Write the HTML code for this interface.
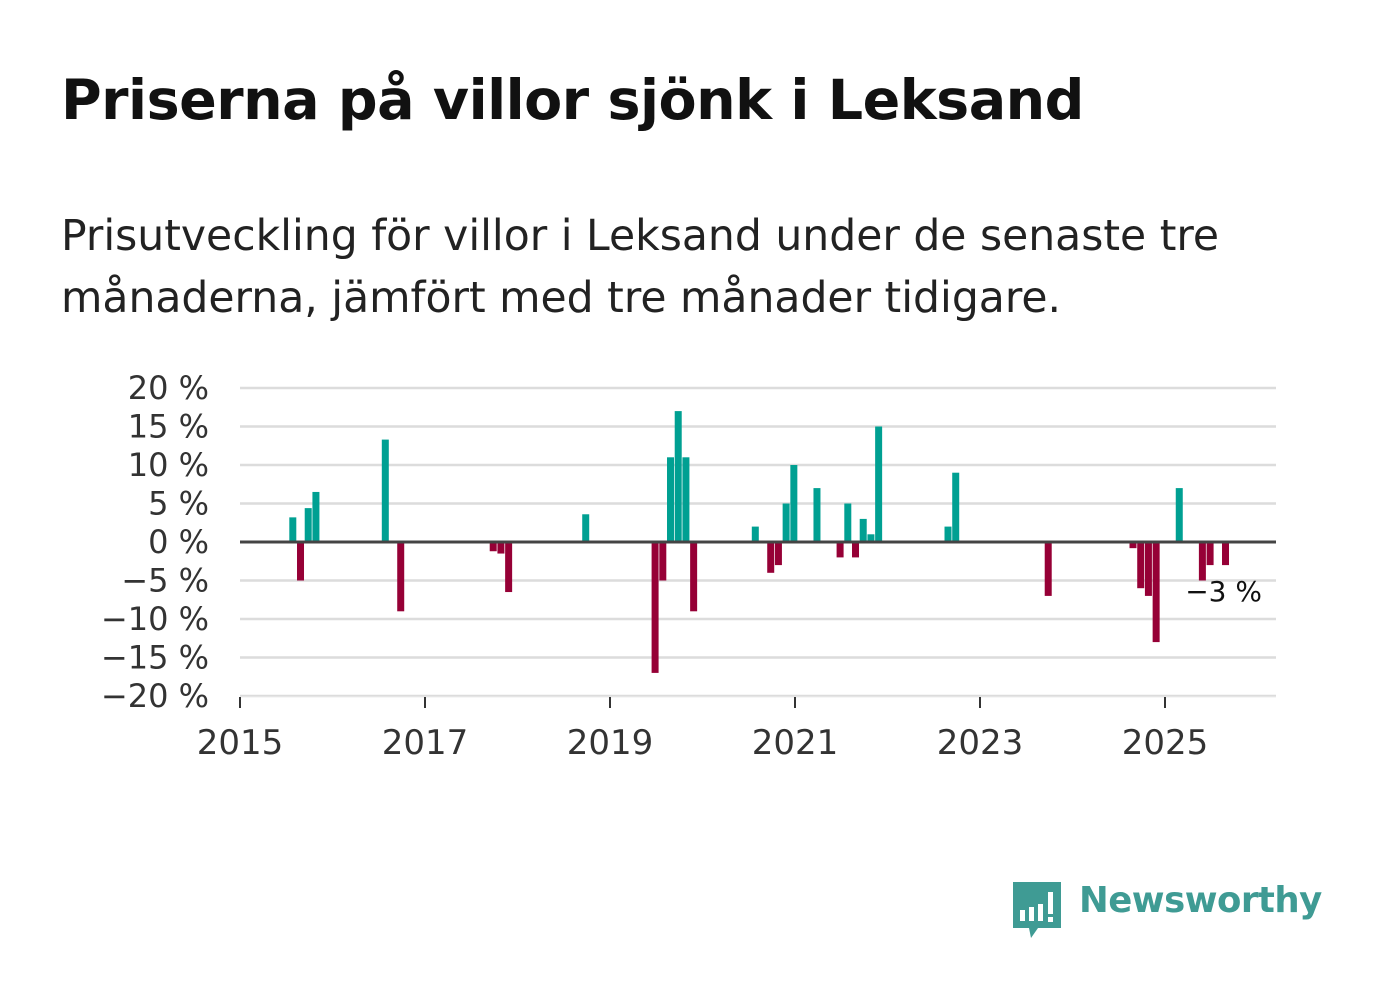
<!DOCTYPE html>
<html><head><meta charset="utf-8">
<style>
body{margin:0;background:#fff;font-family:"DejaVu Sans","Liberation Sans",sans-serif;}
#wrap{position:relative;width:1382px;height:999px;overflow:hidden}
h1{position:absolute;left:61px;top:68px;margin:0;font-size:55.5px;font-weight:bold;color:#111;letter-spacing:-0.5px;font-family:"DejaVu Sans","Liberation Sans",sans-serif}
p{position:absolute;left:61px;top:206px;margin:0;font-size:42.5px;line-height:62px;color:#222;width:1300px}
</style></head><body>
<div id="wrap">
<h1>Priserna på villor sjönk i Leksand</h1>
<p>Prisutveckling för villor i Leksand under de senaste tre<br>månaderna, jämfört med tre månader tidigare.</p>
<svg id="chart" width="1382" height="999" style="position:absolute;left:0;top:0"></svg>
<svg style="position:absolute;left:1011px;top:880px" width="52" height="60">
<path d="M2 2h48v46H27l-7 10-2-10H2z" fill="#3f9b94"/>
<rect x="9" y="30" width="5" height="11" fill="#fff"/><rect x="18" y="27" width="5" height="14" fill="#fff"/><rect x="27" y="24" width="5" height="17" fill="#fff"/><rect x="37" y="12" width="5" height="22" fill="#fff"/><rect x="37" y="37" width="5" height="5" fill="#fff"/>
</svg>
<div style="position:absolute;left:1079px;top:880px;font-size:35.5px;font-weight:bold;color:#3f9b94;font-family:'DejaVu Sans','Liberation Sans',sans-serif;letter-spacing:-0.5px">Newsworthy</div>
</div>
<script>
const monthIndex=[6,7,8,9,18,20,32,33,34,44,53,54,55,56,57,58,66,68,69,70,71,74,77,78,79,80,81,82,91,92,104,115,116,117,118,121,124,125,127];
const values=[3.2,-5,4.4,6.5,13.3,-9,-1.2,-1.5,-6.5,3.6,-17,-5,11,17,11,-9,2,-4,-3,5,10,7,-2,5,-2,3,1,15,2,9,-7,-0.8,-6,-7,-13,7,-5,-3,-3];
const yTicks=[20,15,10,5,0,-5,-10,-15,-20];
const xTickYears=[2015,2017,2019,2021,2023,2025];
const lastLabel="−3 %";
const svg=document.getElementById('chart');const NS='http://www.w3.org/2000/svg';
const x0=240,x1=1276,y0=542,pxPer=7.7,monthPx=92.5/12;
const xm=i=>x0+(i+0.85)*monthPx;
const xy=yr=>x0+(yr-2015)*92.5;
const yv=v=>y0-v*pxPer;
function add(tag,a){const e=document.createElementNS(NS,tag);for(const k in a)e.setAttribute(k,a[k]);svg.appendChild(e);return e;}
yTicks.forEach(t=>{
 if(t!==0){const l=add('line',{x1:x0,x2:x1,y1:yv(t),y2:yv(t),stroke:'#dcdcdc','stroke-width':2.5});
 
 }
 const tx=add('text',{x:209,y:yv(t)+11,'text-anchor':'end','font-size':32,fill:'#333'});
 tx.textContent=(t<0?'−'+(-t):t)+' %';
 
 
});
const ax=add('line',{x1:x0,x2:x1,y1:yv(-20)+1,y2:yv(-20)+1,stroke:'#eee','stroke-width':1});


xTickYears.forEach(yr=>{
 const l=add('line',{x1:xy(yr),x2:xy(yr),y1:697,y2:708,stroke:'#333','stroke-width':2});
 
 
 const t=add('text',{x:xy(yr),y:754,'text-anchor':'middle','font-size':34,fill:'#333'});
 t.textContent=yr;
 
 
});
monthIndex.forEach((m,i)=>{
 const v=values[i];const cx=xm(m);
 const r=add('rect',{x:cx-3.5,width:7,y:Math.min(yv(v),y0),height:Math.abs(yv(v)-y0),fill:v>=0?'#00a092':'#960036'});
 
 
});
const z=add('line',{x1:x0,x2:x1,y1:y0,y2:y0,stroke:'#444','stroke-width':3});


const lab=add('text',{x:1262,y:601,'text-anchor':'end','font-size':28,fill:'#111'});
lab.textContent=lastLabel;


</script>
</body></html>
